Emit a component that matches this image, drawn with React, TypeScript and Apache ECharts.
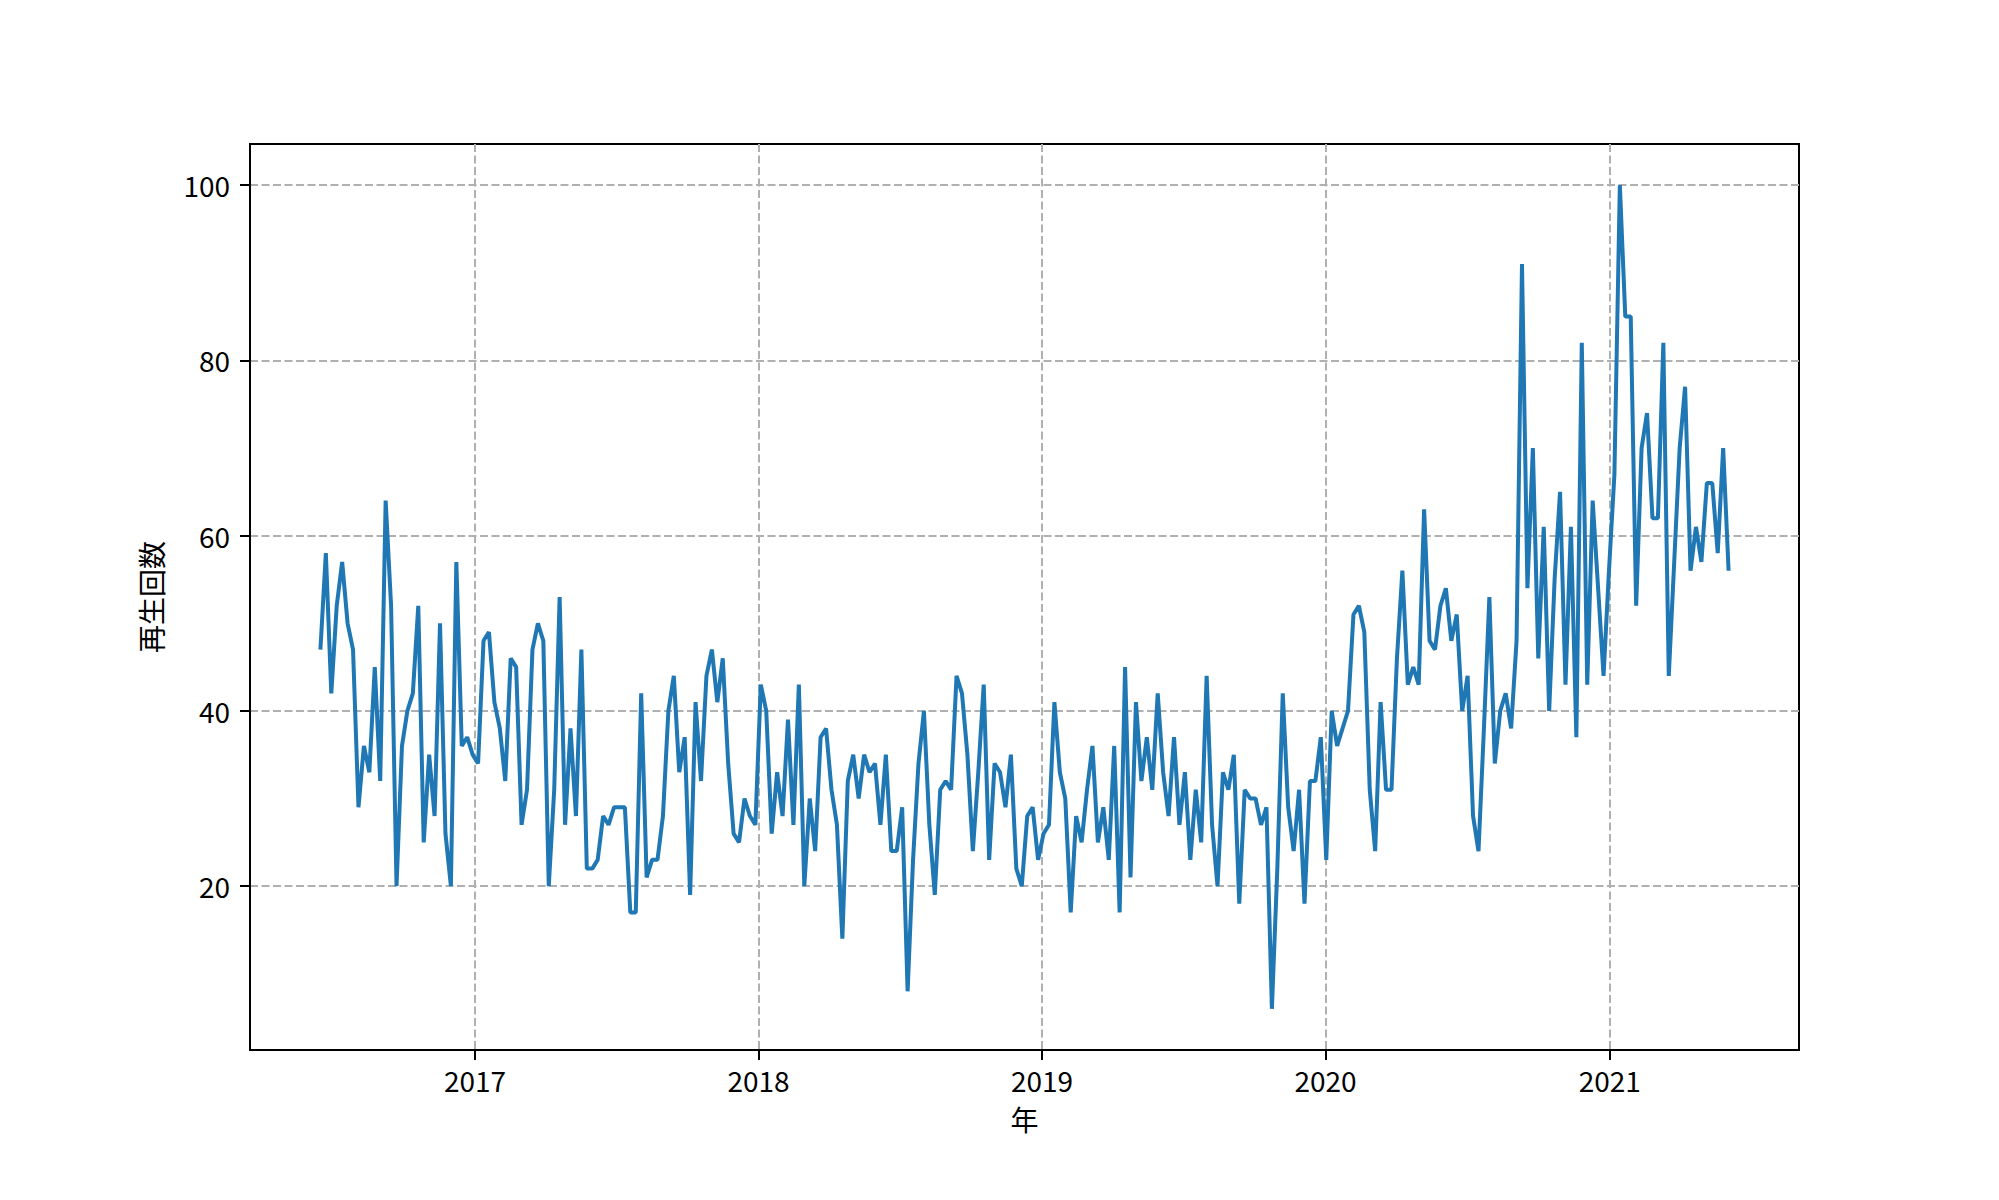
import React, { useEffect, useRef } from "react";
import * as echarts from "echarts";

// weekly play counts, first week starting mid-June 2016
const startYear = 2016;
const startMonth = 5; // June (0-based)
const startDay = 16;

const playCounts: number[] = [
  47, 58, 42, 52, 57, 50, 47, 29, 36, 33, 45, 32, 64, 52, 20, 36, 40, 42, 52, 25, 35, 28, 50, 26, 20, 57, 36, 37, 35, 34, 48, 49, 41, 38, 32, 46, 45, 27, 31, 47, 50, 48, 20,
  31, 53, 27, 38, 28, 47, 22, 22, 23, 28, 27, 29, 29, 29, 17, 17, 42, 21, 23, 23, 28, 40, 44, 33, 37, 19, 41, 32, 44, 47, 41, 46, 34, 26, 25, 30, 28, 27, 43, 40, 26, 33, 28, 39,
  27, 43, 20, 30, 24, 37, 38, 31, 27, 14, 32, 35, 30, 35, 33, 34, 27, 35, 24, 24, 29, 8, 23, 34, 40, 27, 19, 31, 32, 31, 44, 42, 35, 24, 33, 43, 23, 34, 33, 29, 35, 22, 20, 28,
  29, 23, 26, 27, 41, 33, 30, 17, 28, 25, 31, 36, 25, 29, 23, 36, 17, 45, 21, 41, 32, 37, 31, 42, 33, 28, 37, 27, 33, 23, 31, 25, 44, 27, 20, 33, 31, 35, 18, 31, 30, 30, 27, 29, 6,
  22, 42, 29, 24, 31, 18, 32, 32, 37, 23, 40, 36, 38, 40, 51, 52, 49, 31, 24, 41, 31, 31, 46, 56, 43, 45, 43, 63, 48, 47, 52, 54, 48, 51, 40, 44, 28, 24, 38, 53, 34, 40, 42, 38,
  48, 91, 54, 70, 46, 61, 40, 55, 65, 43, 61, 37, 82, 43, 64, 54, 44, 56, 67, 100, 85, 85, 52, 70, 74, 62, 62, 82, 44, 57, 70, 77, 56, 61, 57, 66, 66, 58, 70, 56,
];

const yearTicks: number[] = [2017, 2018, 2019, 2020, 2021];
const yTicks: number[] = [20, 40, 60, 80, 100];

const FONT = '"Noto Sans CJK JP", "Noto Sans", sans-serif';

export default function App() {
  const ref = useRef<HTMLDivElement>(null);

  useEffect(() => {
    document.body.style.margin = "0";
    if (!ref.current) return;
    const chart = echarts.init(ref.current, undefined, { renderer: "svg" });

    const data = playCounts.map((v, i) => [
      new Date(startYear, startMonth, startDay + 7 * i).getTime(),
      v,
    ]);
    const t0 = data[0][0] as number;
    const t1 = data[data.length - 1][0] as number;
    const span = t1 - t0;
    const xMin = t0 - 0.05 * span;
    const xMax = t1 + 0.05 * span;

    const vMin = Math.min(...playCounts);
    const vMax = Math.max(...playCounts);
    const vSpan = vMax - vMin;
    const yMin = vMin - 0.05 * vSpan;
    const yMax = vMax + 0.05 * vSpan;

    const yearTs = yearTicks.map((y) => new Date(y, 0, 1).getTime());

    const gridLine = {
      show: true,
      lineStyle: { color: "#b0b0b0", width: 2, type: [8, 3.5] as number[] },
    };

    chart.setOption({
      animation: false,
      backgroundColor: "#ffffff",
      grid: {
        left: 250,
        right: 200,
        top: 144,
        bottom: 150,
        show: true,
        borderColor: "#000000",
        borderWidth: 2,
        backgroundColor: "transparent",
      },
      xAxis: {
        type: "value",
        min: xMin,
        max: xMax,
        name: "年",
        nameLocation: "middle",
        nameGap: 55,
        nameTextStyle: { fontSize: 28, lineHeight: 28, color: "#000", fontFamily: FONT },
        axisLine: { show: true, lineStyle: { color: "#000", width: 2 } },
        axisTick: {
          show: true,
          length: 10,
          lineStyle: { color: "#000", width: 2 },
          customValues: yearTs,
        },
        axisLabel: {
          customValues: yearTs,
          formatter: (v: number) => String(new Date(v).getFullYear()),
          fontSize: 28,
          lineHeight: 26,
          color: "#000",
          margin: 17,
          fontFamily: FONT,
        },
        splitLine: gridLine,
      },
      yAxis: {
        type: "value",
        min: yMin,
        max: yMax,
        name: "再生回数",
        nameLocation: "middle",
        nameGap: 85,
        nameTextStyle: { fontSize: 28, lineHeight: 28, color: "#000", fontFamily: FONT },
        axisLine: { show: true, lineStyle: { color: "#000", width: 2 } },
        axisTick: {
          show: true,
          length: 10,
          lineStyle: { color: "#000", width: 2 },
          customValues: yTicks,
        },
        axisLabel: {
          customValues: yTicks,
          fontSize: 28,
          color: "#000",
          margin: 20,
          fontFamily: FONT,
        },
        splitLine: gridLine,
      },
      series: [
        {
          type: "line",
          data,
          showSymbol: false,
          symbol: "none",
          lineStyle: { color: "#1f77b4", width: 4 },
          itemStyle: { color: "#1f77b4" },
        },
      ],
    });

    return () => {
      chart.dispose();
    };
  }, []);

  return <div ref={ref} style={{ width: 1999, height: 1200 }} />;
}
